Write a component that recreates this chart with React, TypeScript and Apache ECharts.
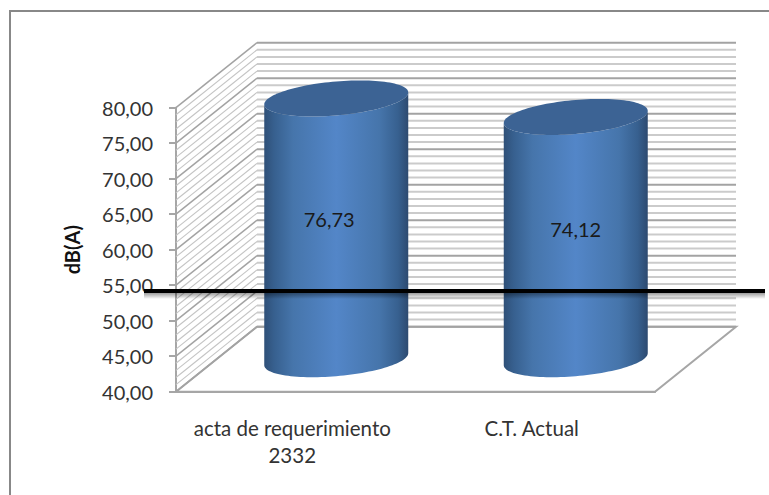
import React, { useEffect, useRef } from "react";
import * as echarts from "echarts";

const categories = ["acta de requerimiento\n2332", "C.T. Actual"];
const values = [76.73, 74.12];
const valueLabels = ["76,73", "74,12"];
const gridValues = [
  40, 41, 42, 43, 44, 45, 46, 47, 48, 49, 50, 51, 52, 53, 54, 55, 56, 57, 58, 59, 60,
  61, 62, 63, 64, 65, 66, 67, 68, 69, 70, 71, 72, 73, 74, 75, 76, 77, 78, 79, 80,
];

const DX = 81;
const DY = -65;
const LABEL_NUDGE = [-7, 0];
const FONT = "Lato, 'Noto Sans', sans-serif";
const TEXT = "#333333";

function ellipsePoints(cx: number, cy: number, from: number, to: number, n: number) {
  const pts: number[][] = [];
  for (let i = 0; i <= n; i++) {
    const t = from + ((to - from) * i) / n;
    pts.push([cx + 72 * Math.cos(t), cy - 6 * Math.cos(t) + 17 * Math.sin(t)]);
  }
  return pts;
}

export default function App() {
  const ref = useRef<HTMLDivElement>(null);
  useEffect(() => {
    const chart = echarts.init(ref.current!, undefined, { renderer: "svg" });
    chart.setOption({
      animation: false,
      backgroundColor: "#ffffff",
      grid: { left: 176, top: 107.7, width: 479, height: 284, containLabel: false },
      xAxis: {
        type: "category",
        data: categories,
        axisLine: { show: true, lineStyle: { color: "#a6a6a6", width: 2 } },
        axisTick: { show: false },
        axisLabel: {
          interval: 0,
          hideOverlap: false,
          color: TEXT,
          fontFamily: FONT,
          fontSize: 20.5,
          lineHeight: 27,
          margin: 23,
          padding: [0, 7, 0, 0],
        },
      },
      yAxis: {
        type: "value",
        min: 40,
        max: 80,
        interval: 5,
        name: "dB(A)",
        nameLocation: "middle",
        nameGap: 94,
        nameRotate: 90,
        nameTextStyle: { color: "#111111", fontFamily: FONT, fontSize: 20, fontWeight: "bold" },
        axisLine: { show: true, lineStyle: { color: "#a6a6a6", width: 2 } },
        axisTick: { show: true, length: 7, lineStyle: { color: "#a6a6a6", width: 2 } },
        axisLabel: {
          color: TEXT,
          fontFamily: FONT,
          fontSize: 20,
          margin: 23,
          formatter: (v: number) => v.toFixed(2).replace(".", ","),
        },
        splitLine: { show: false },
      },
      graphic: [
        {
          type: "rect",
          z: 0,
          silent: true,
          shape: { x: 10, y: 11, width: 790, height: 520 },
          style: { fill: "none", stroke: "#888888", lineWidth: 2 },
        },
        {
          type: "rect",
          z: 99,
          silent: true,
          shape: { x: 144, y: 292, width: 621, height: 7 },
          style: {
            fill: new echarts.graphic.LinearGradient(0, 0, 0, 1, [
              { offset: 0, color: "rgba(0,0,0,0.45)" },
              { offset: 1, color: "rgba(0,0,0,0)" },
            ]),
          },
        },
        {
          type: "polygon",
          z: 100,
          silent: true,
          shape: { points: [[144, 289], [765, 289], [765, 293], [144, 293]] },
          style: { fill: "#000000" },
        },
      ],
      series: [
        {
          type: "custom",
          z: 2,
          silent: true,
          data: [[0, 40]],
          encode: { x: 0, y: 1 },
          renderItem: (params: any, api: any) => {
            const y = api.coord([0, api.value(1)])[1];
            const cs = params.coordSys;
            const x0 = cs.x;
            const x1 = cs.x + cs.width;
            return {
              type: "polyline",
              shape: { points: [[x0, y], [x1, y], [x1 + DX, y + DY], [x0 + DX, y + DY], [x0, y]] },
              style: { fill: "#ffffff", stroke: "#a6a6a6", lineWidth: 2 },
            };
          },
        },
        {
          type: "custom",
          z: 2,
          silent: true,
          data: gridValues.map((v) => [0, v]),
          encode: { x: 0, y: 1 },
          renderItem: (params: any, api: any) => {
            const v = api.value(1);
            const y = api.coord([0, v])[1];
            const cs = params.coordSys;
            const x0 = cs.x;
            const x1 = cs.x + cs.width;
            const major = v % 5 === 0;
            return {
              type: "group",
              children: [
                {
                  type: "line",
                  shape: { x1: x0, y1: y, x2: x0 + DX, y2: y + DY },
                  style: { stroke: major ? "#a3a3a3" : "#c4c4c4", lineWidth: major ? 1.5 : 1.1 },
                },
                {
                  type: "line",
                  shape: { x1: x0 + DX, y1: y + DY, x2: x1 + DX, y2: y + DY },
                  style: { stroke: major ? "#a3a3a3" : "#cbcbcb", lineWidth: 2 },
                },
              ],
            };
          },
        },
        {
          type: "custom",
          z: 3,
          silent: true,
          data: values.map((v, i) => [i, v]),
          encode: { x: 0, y: 1 },
          renderItem: (params: any, api: any) => {
            const i = api.value(0);
            const top = api.coord([i, api.value(1)]);
            const base = api.coord([i, 40]);
            const cx = top[0] + DX / 2;
            const topY = top[1] + DY / 2;
            const botY = base[1] + DY / 2;
            const body = [
              ...ellipsePoints(cx, botY, 0, Math.PI, 60),
              ...ellipsePoints(cx, topY, Math.PI, 0, 60),
            ];
            return {
              type: "group",
              children: [
                {
                  type: "polygon",
                  shape: { points: body },
                  style: {
                    fill: new echarts.graphic.LinearGradient(0, 0, 1, 0, [
                      { offset: 0, color: "#2f5078" },
                      { offset: 0.07, color: "#37608f" },
                      { offset: 0.2, color: "#4675ab" },
                      { offset: 0.5, color: "#5386c8" },
                      { offset: 0.8, color: "#4675ab" },
                      { offset: 0.93, color: "#37608f" },
                      { offset: 1, color: "#2d4a70" },
                    ]),
                  },
                },
                {
                  type: "polygon",
                  shape: { points: ellipsePoints(cx, topY, 0, Math.PI * 2, 120) },
                  style: { fill: "#3c6394" },
                },
                {
                  type: "text",
                  style: {
                    text: valueLabels[i],
                    x: cx + LABEL_NUDGE[i],
                    y: (topY + botY) / 2 - 9.5,
                    align: "center",
                    verticalAlign: "middle",
                    fill: "#1a1a1a",
                    font: `20px ${FONT}`,
                  },
                },
              ],
            };
          },
        },
      ],
    });
    return () => chart.dispose();
  }, []);
  return (
    <div
      ref={ref}
      style={{ position: "absolute", left: 0, top: 0, width: 769, height: 495 }}
    />
  );
}
